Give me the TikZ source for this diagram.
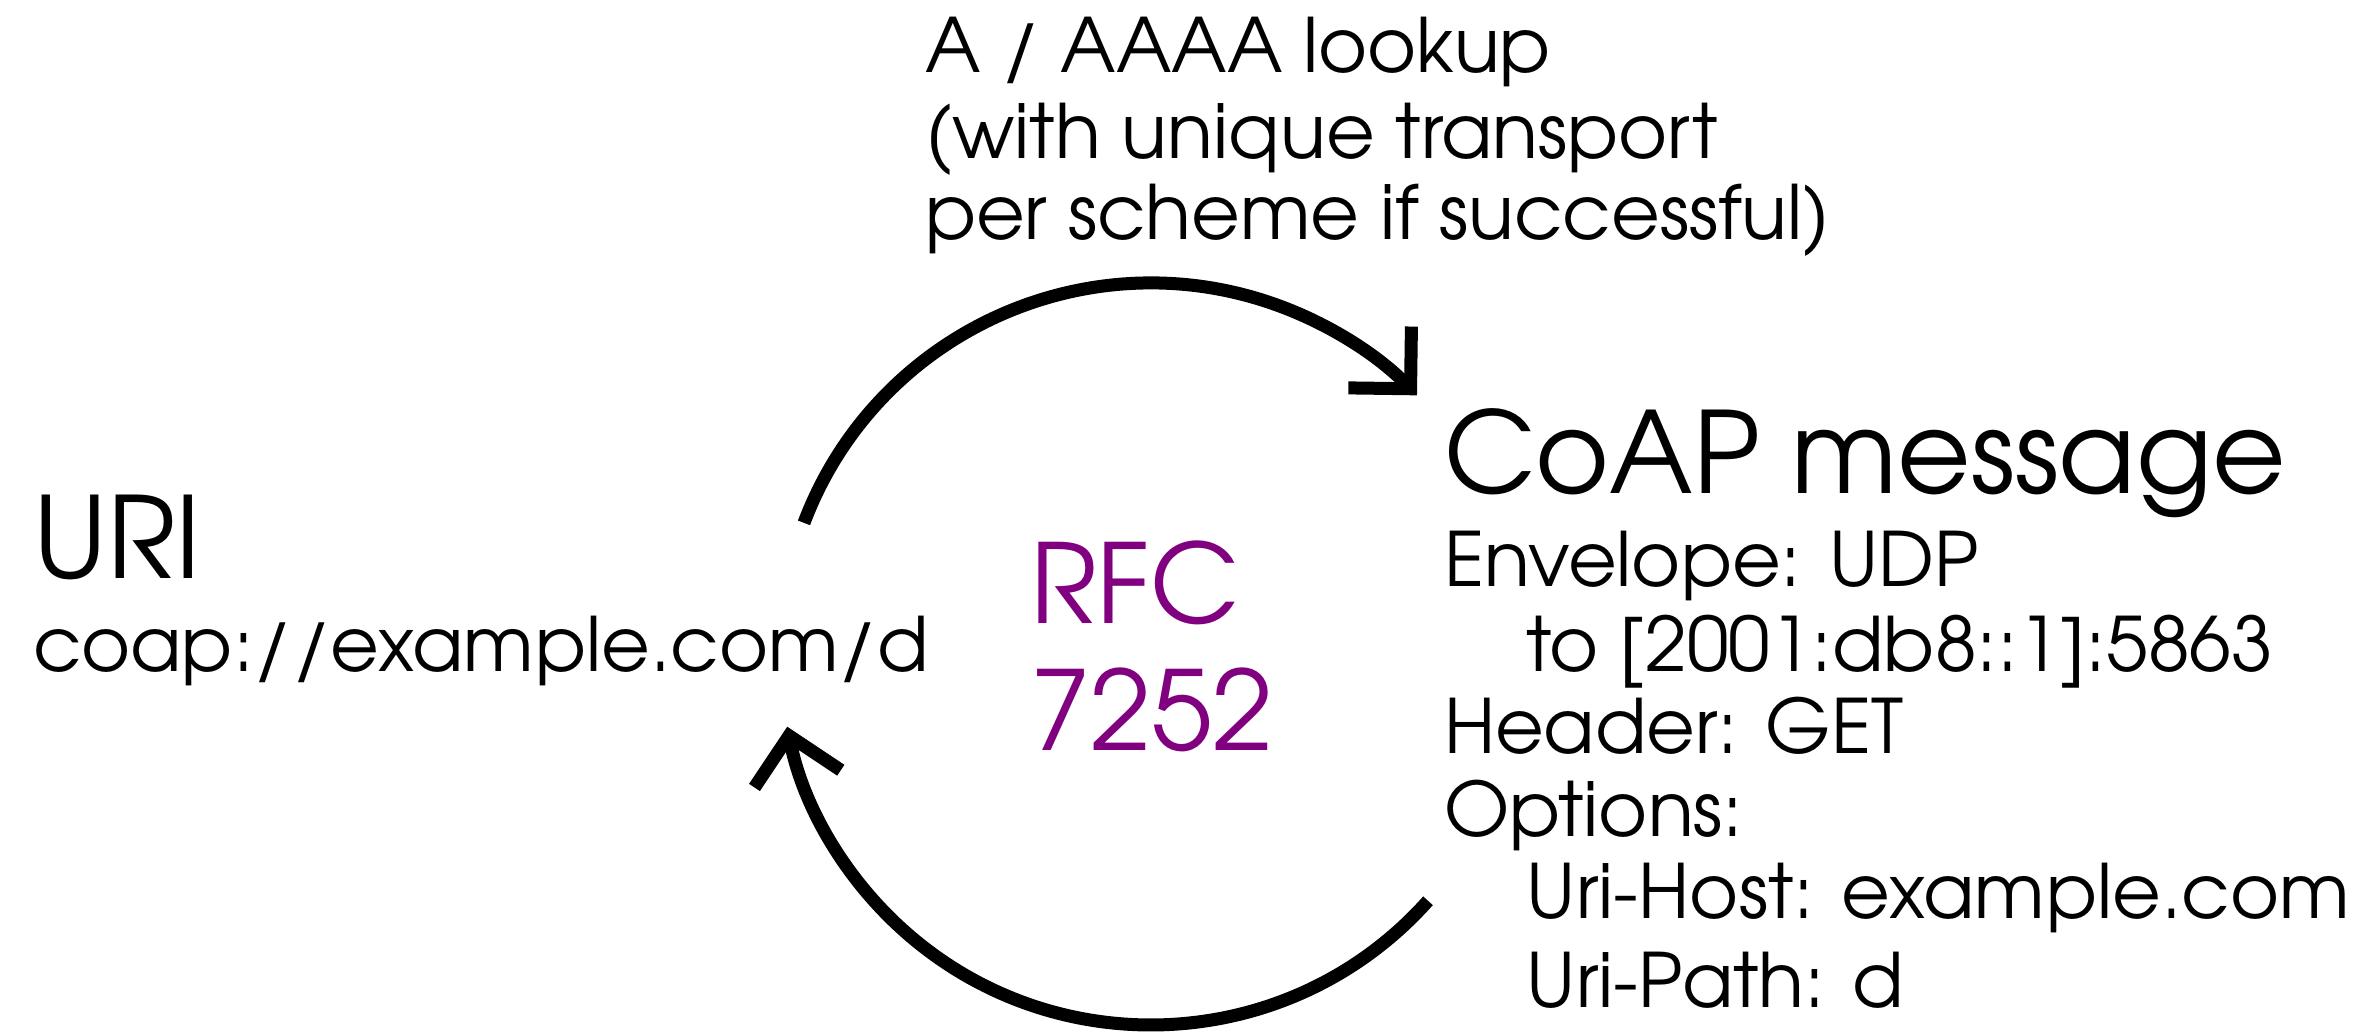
\documentclass[tikz,border=0pt]{standalone}
\usepackage{fontspec}
\setmainfont{texgyreadventor-regular.otf}
\usetikzlibrary{arrows.meta}
\definecolor{rfcpurple}{RGB}{128,0,128}
\begin{document}
\begin{tikzpicture}[x=1pt,y=1pt,
  txt/.style={anchor=base west, inner sep=0pt, outer sep=0pt},
  small/.style={txt, font=\fontsize{75}{84}\selectfont},
  lookupfont/.style={txt, font=\fontsize{75}{84}\selectfont},
  big/.style={txt, font=\fontsize{113}{130}\selectfont},
  rfcfont/.style={txt, text=rfcpurple, font=\fontsize{110}{130}\selectfont},
  cyclearrow/.style={line width=13pt, -{Straight Barb[length=44pt 0 0, width=88pt 0 0]}}
]
\path[use as bounding box] (0,0) rectangle (2358,1033);
% texts
\node[lookupfont] (lk1) at (925,960) {A / AAAA lookup};
\node[lookupfont] (lk2) at (925,874) {(with unique transport};
\node[lookupfont] (lk3) at (925,793) {per scheme if successful)};
\node[big] (uri) at (33,454) {URI};
\node[small] (uriaddr) at (33,361) {coap://example.com/d};
\node[rfcfont] (rfc1) at (1030,409) {RFC};
\node[rfcfont] (rfc2) at (1030,282) {7252};
\node[big] (coap) at (1444,539) {CoAP message};
\node[small] (env) at (1444,446) {Envelope: UDP};
\node[small] (to) at (1526,361) {to [2001:db8::1]:5863};
\node[small] (hdr) at (1444,279) {Header: GET};
\node[small] (opt) at (1444,196) {Options:};
\node[small] (host) at (1526,114) {Uri-Host: example.com};
\node[small] (path) at (1526,25) {Uri-Path: d};
% cycle arrows
\coordinate (c) at (1151,379);
\draw[cyclearrow] (c) ++(159.3:371pt) arc[start angle=159.3, end angle=44.2, radius=371pt];
\draw[cyclearrow] (c) ++(-41.7:371pt) arc[start angle=-41.7, end angle=-168.7, radius=371pt];
\end{tikzpicture}
\end{document}
